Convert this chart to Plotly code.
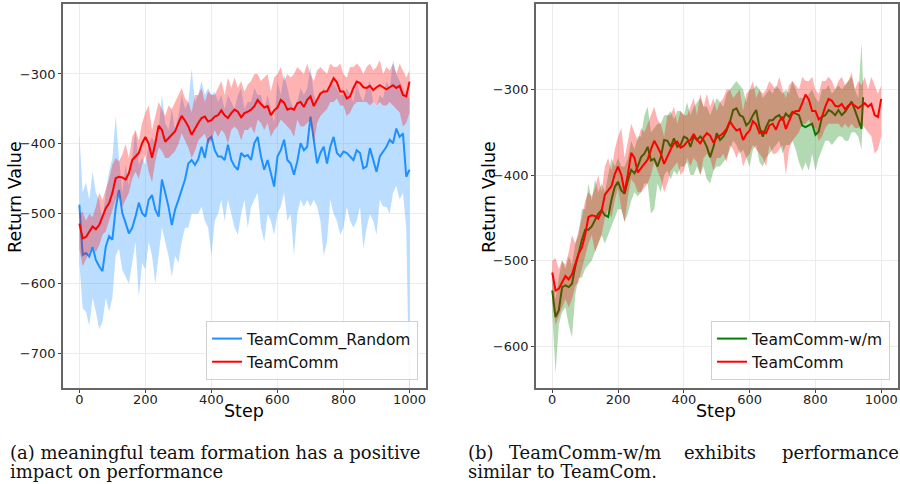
import plotly.graph_objects as go

steps = list(range(0, 1001, 10))

teamcomm_mean = [-514, -535, -533, -525, -518, -522, -516, -504, -492, -485,
                 -470, -449, -447, -448, -451, -442, -423, -418, -413, -399,
                 -390, -400, -420, -399, -374, -380, -397, -392, -387, -382,
                 -370, -360, -367, -375, -387, -378, -370, -363, -361, -368,
                 -366, -361, -359, -352, -359, -363, -356, -351, -354, -362,
                 -356, -354, -351, -346, -337, -343, -348, -346, -359, -352,
                 -348, -337, -341, -351, -349, -351, -342, -340, -347, -337,
                 -332, -346, -337, -328, -325, -325, -316, -306, -312, -325,
                 -325, -335, -332, -320, -311, -313, -319, -320, -317, -323,
                 -319, -316, -319, -322, -319, -316, -320, -317, -330, -332,
                 -311]
teamcomm_upper = [-500, -497, -510, -500, -505, -490, -470, -480, -465, -450,
                  -430, -420, -425, -415, -400, -420, -390, -380, -395, -370,
                  -355, -345, -380, -360, -340, -350, -360, -345, -350, -340,
                  -330, -320, -335, -340, -355, -330, -330, -320, -340, -325,
                  -330, -330, -320, -310, -330, -305, -320, -305, -320, -310,
                  -325, -315, -310, -300, -300, -310, -305, -300, -325, -305,
                  -300, -290, -310, -300, -305, -300, -290, -295, -300, -285,
                  -300, -310, -295, -290, -295, -300, -285, -290, -290, -285,
                  -300, -305, -290, -290, -285, -290, -300, -290, -285, -295,
                  -290, -280, -300, -290, -295, -285, -300, -285, -295, -305,
                  -295]
teamcomm_lower = [-550, -575, -565, -555, -545, -555, -545, -530, -525, -510,
                  -495, -480, -470, -490, -480, -470, -450, -440, -450, -430,
                  -415, -440, -455, -425, -405, -410, -420, -420, -415, -410,
                  -400, -385, -395, -405, -420, -410, -395, -390, -385, -400,
                  -395, -380, -390, -380, -385, -400, -380, -375, -380, -395,
                  -380, -380, -375, -385, -365, -370, -380, -370, -390, -380,
                  -375, -365, -370, -375, -380, -390, -365, -375, -375, -370,
                  -365, -400, -370, -360, -355, -350, -340, -340, -335, -345,
                  -345, -360, -355, -345, -340, -340, -340, -340, -345, -340,
                  -345, -340, -345, -345, -340, -345, -350, -355, -375, -370,
                  -355]

random_mean = [-487, -559, -556, -561, -547, -566, -575, -582, -547, -532,
               -537, -492, -466, -499, -513, -528, -520, -504, -484, -499,
               -504, -480, -473, -494, -504, -451, -470, -490, -516, -494,
               -480, -466, -451, -428, -423, -430, -422, -404, -420, -394,
               -390, -409, -418, -418, -423, -401, -423, -432, -437, -413,
               -418, -416, -423, -399, -390, -418, -437, -423, -442, -461,
               -418, -409, -394, -423, -428, -444, -425, -399, -409, -404,
               -361, -394, -428, -413, -404, -428, -404, -390, -413, -418,
               -411, -413, -418, -423, -409, -413, -435, -432, -406, -423,
               -440, -418, -411, -404, -394, -399, -378, -390, -385, -447,
               -437]
random_upper = [-385, -470, -455, -480, -440, -470, -480, -510, -470, -440,
                -420, -360, -420, -470, -430, -460, -420, -380, -430, -420,
                -430, -400, -390, -400, -380, -330, -370, -380, -350, -380,
                -360, -330, -350, -340, -293, -340, -330, -310, -330, -320,
                -330, -325, -340, -330, -350, -330, -340, -350, -330, -320,
                -350, -340, -340, -320, -330, -330, -350, -330, -350, -370,
                -310, -330, -300, -320, -340, -350, -340, -320, -330, -320,
                -290, -330, -340, -330, -320, -330, -310, -315, -320, -330,
                -330, -320, -330, -340, -310, -330, -340, -320, -310, -340,
                -345, -330, -335, -310, -320, -280, -300, -310, -320, -330,
                -335]
random_lower = [-570, -635, -640, -660, -620, -640, -665, -655, -620, -640,
                -620, -560, -550, -580, -590, -600, -570, -540, -620, -570,
                -580, -540, -560, -600, -560, -520, -540, -560, -590, -560,
                -570, -540, -520, -520, -500, -500, -500, -490, -510, -520,
                -560, -510, -500, -480, -510, -480, -500, -520, -530, -500,
                -480, -520, -490, -480, -470, -520, -540, -500, -510, -530,
                -500, -490, -470, -510, -500, -560, -500, -480, -490, -480,
                -490, -480, -490, -510, -560, -540, -480, -500, -510, -530,
                -520, -490, -510, -520, -510, -490, -550, -520, -500, -510,
                -530, -480, -490, -490, -500, -470, -460, -480, -470, -520,
                -780]

wm_steps = list(range(0, 941, 10)) + [945]
wm_mean = [-535, -566, -558, -531, -529, -531, -527, -507, -492, -476,
           -464, -464, -460, -453, -445, -441, -447, -449, -429, -414,
           -408, -418, -422, -406, -394, -398, -390, -379, -375, -367,
           -383, -381, -390, -379, -359, -360, -367, -357, -367, -365,
           -355, -357, -367, -355, -359, -355, -359, -367, -379, -367,
           -351, -359, -355, -348, -338, -324, -322, -330, -332, -342,
           -338, -330, -324, -344, -355, -344, -336, -336, -332, -330,
           -336, -328, -332, -326, -328, -330, -342, -344, -342, -340,
           -353, -349, -332, -330, -324, -326, -330, -324, -330, -326,
           -320, -314, -324, -336, -346, -309]
wm_upper = [-510, -545, -520, -500, -510, -495, -505, -480, -470, -440,
            -440, -410, -430, -405, -420, -410, -420, -400, -380, -390,
            -380, -390, -390, -380, -360, -370, -355, -355, -330, -320,
            -350, -345, -340, -340, -330, -330, -325, -335, -325, -325,
            -330, -315, -330, -320, -315, -310, -320, -320, -330, -320,
            -310, -315, -320, -305, -300, -295, -290, -295, -300, -315,
            -300, -300, -295, -300, -310, -305, -300, -305, -295, -300,
            -305, -300, -305, -290, -300, -310, -310, -315, -305, -300,
            -310, -315, -300, -300, -295, -305, -300, -295, -300, -295,
            -290, -285, -300, -310, -245, -295]
wm_lower = [-560, -632, -575, -560, -555, -575, -590, -540, -520, -520,
            -510, -505, -500, -490, -480, -470, -480, -470, -460, -450,
            -440, -440, -455, -445, -430, -420, -425, -420, -410, -410,
            -445, -440, -410, -420, -400, -395, -405, -395, -400, -390,
            -390, -385, -400, -400, -390, -400, -390, -405, -410, -395,
            -390, -390, -385, -380, -370, -360, -365, -375, -370, -380,
            -390, -370, -365, -385, -390, -380, -375, -370, -365, -360,
            -375, -365, -365, -360, -370, -385, -395, -385, -395, -375,
            -395, -380, -370, -360, -360, -365, -360, -355, -355, -360,
            -360, -350, -350, -355, -370, -320]

x_ticks = [0, 200, 400, 600, 800, 1000]
y_ticks_a = [-700, -600, -500, -400, -300]
y_ticks_b = [-600, -500, -400, -300]

W, H = 900, 484
BLUE, RED, GREEN = "#1E90FF", "#FF0000", "#008000"
BLUE_F, RED_F, GREEN_F = "rgba(30,144,255,0.3)", "rgba(255,0,0,0.3)", "rgba(0,128,0,0.3)"

fig = go.Figure()


def band(x, lo, hi, color, xa, ya):
    fig.add_trace(go.Scatter(x=x, y=hi, mode="lines", line=dict(width=0),
                             hoverinfo="skip", showlegend=False, xaxis=xa, yaxis=ya))
    fig.add_trace(go.Scatter(x=x, y=lo, mode="lines", line=dict(width=0),
                             fill="tonexty", fillcolor=color, hoverinfo="skip",
                             showlegend=False, xaxis=xa, yaxis=ya))


def line(x, y, color, name, xa, ya, leg):
    fig.add_trace(go.Scatter(x=x, y=y, mode="lines", name=name,
                             line=dict(color=color, width=2),
                             xaxis=xa, yaxis=ya, legend=leg))


# (a)
band(steps, random_lower, random_upper, BLUE_F, "x", "y")
line(steps, random_mean, BLUE, "TeamComm_Random", "x", "y", "legend")
band(steps, teamcomm_lower, teamcomm_upper, RED_F, "x", "y")
line(steps, teamcomm_mean, RED, "TeamComm", "x", "y", "legend")
# (b)
band(wm_steps, wm_lower, wm_upper, GREEN_F, "x2", "y2")
line(wm_steps, wm_mean, GREEN, "TeamComm-w/m", "x2", "y2", "legend2")
band(steps, teamcomm_lower, teamcomm_upper, RED_F, "x2", "y2")
line(steps, teamcomm_mean, RED, "TeamComm", "x2", "y2", "legend2")

tickfont = dict(family="DejaVu Sans", size=13, color="#222")
common = dict(showline=True, mirror=True, linecolor="#666666", linewidth=1.5,
              ticks="outside", ticklen=3, tickcolor="#444", tickwidth=1,
              showgrid=True, gridcolor="#ececec", gridwidth=1, zeroline=False,
              tickfont=tickfont)

def px(v):
    return v / W

def py(v):
    return (H - v) / H

legend_common = dict(xanchor="right", yanchor="bottom", traceorder="normal",
                     bgcolor="rgba(255,255,255,0.85)", bordercolor="#d0d0d0", borderwidth=1,
                     font=dict(family="DejaVu Sans", size=15.5, color="#111"))

fig.update_layout(
    width=W, height=H, margin=dict(l=0, r=0, t=0, b=0),
    paper_bgcolor="white", plot_bgcolor="white",
    xaxis=dict(domain=[px(63), px(427)], range=[-50, 1050], tickvals=x_ticks, anchor="y",
               ticklabelstandoff=-4, **common),
    yaxis=dict(domain=[py(388), py(4)], range=[-749, -200], tickvals=y_ticks_a, anchor="x", **common),
    xaxis2=dict(domain=[px(537), 1.0], range=[-50, 1051], tickvals=x_ticks, anchor="y2",
                ticklabelstandoff=-4, **common),
    yaxis2=dict(domain=[py(388), py(4)], range=[-649, -200], tickvals=y_ticks_b, anchor="x2", **common),
    legend=dict(x=px(419), y=py(380), **legend_common),
    legend2=dict(x=px(892), y=py(380), **legend_common),
)

title_font = dict(family="DejaVu Sans", size=17.5, color="#000")
cap_font = dict(family="DejaVu Serif", size=18, color="#111")
anns = [
    dict(text="Return Value", x=px(15), y=py(197), textangle=-90, font=title_font),
    dict(text="Return Value", x=px(490), y=py(197), textangle=-90, font=title_font),
    dict(text="Step", x=px(245), y=py(411), font=title_font),
    dict(text="Step", x=px(718), y=py(411), font=title_font),
    dict(text="(a) meaningful team formation has a positive", x=px(8), y=py(452), xanchor="left", font=cap_font),
    dict(text="impact on performance", x=px(8), y=py(471), xanchor="left", font=cap_font),
    dict(text="(b)", x=px(467), y=py(452), xanchor="left", font=cap_font),
    dict(text="TeamComm-w/m", x=px(508), y=py(452), xanchor="left", font=cap_font),
    dict(text="exhibits", x=px(684), y=py(452), xanchor="left", font=cap_font),
    dict(text="performance", x=px(782), y=py(452), xanchor="left", font=cap_font),
    dict(text="similar to TeamCom.", x=px(467), y=py(471), xanchor="left", font=cap_font),
]
for a in anns:
    a.update(xref="paper", yref="paper", showarrow=False)
    a.setdefault("xanchor", "center")
    a.setdefault("yanchor", "middle")
fig.update_layout(annotations=anns)

fig.write_html("out.html")
